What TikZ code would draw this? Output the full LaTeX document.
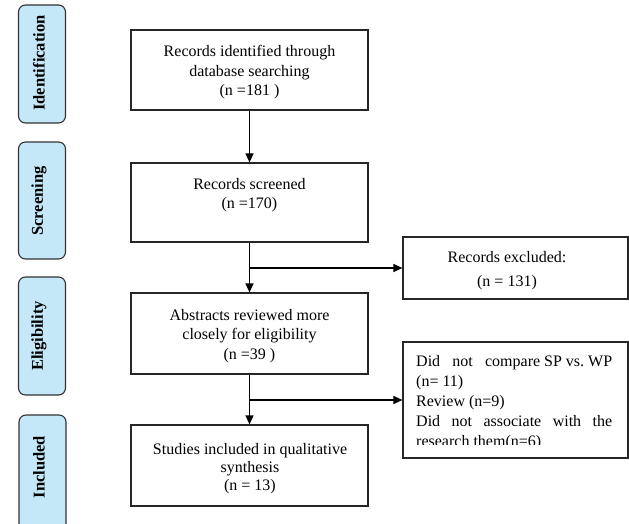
\documentclass[tikz,border=0pt]{standalone}
\usepackage{fontspec}
\setmainfont{Liberation Serif}
\usetikzlibrary{arrows.meta}
\definecolor{phase}{RGB}{197,232,248}
\begin{document}
\begin{tikzpicture}[x=1pt,y=-1pt,
  box/.style={draw=black!85, line width=1.2pt, minimum width=237pt, inner sep=0pt},
  sidebox/.style={draw=black!85, line width=1.2pt, minimum width=225pt, inner sep=0pt},
  phasebox/.style={draw=black!80, line width=1.1pt, fill=phase, rounded corners=7pt, minimum width=47pt, inner sep=0pt},
  phasetxt/.style={rotate=90, font=\bfseries\fontsize{16.5}{18}\selectfont, inner sep=0pt},
  txt/.style={align=center, font=\fontsize{16}{19.5}\selectfont, inner sep=0pt},
  ltxt/.style={anchor=base west, font=\fontsize{16}{19.5}\selectfont, inner sep=0pt},
  arr/.style={-{Triangle[length=9pt,width=8pt]}, line width=1.2pt}]
\useasboundingbox (0,0) rectangle (629,524);

% phase labels
\node[phasebox, minimum height=118pt] (pid) at (42,64) {};
\node[phasetxt] (tid) at (39,63) {Identification};
\node[phasebox, minimum height=117pt] (pscr) at (42,200.5) {};
\node[phasetxt] (tscr) at (39,201) {Screening};
\node[phasebox, minimum height=118pt] (peli) at (42,336) {};
\node[phasetxt] (teli) at (39,336) {Eligibility};
\begin{scope}
  \clip (0,400) rectangle (629,524);
  \node[phasebox, minimum height=130pt] (pinc) at (42.5,480) {};
\end{scope}
\node[phasetxt] (tinc) at (39,467) {Included};

% main boxes
\node[box, minimum height=80pt] (b1) at (249.5,70) {};
\node[txt] (t1) at (249.5,72.5) {Records identified through\\database searching\\(n =181 )};
\node[box, minimum height=79pt] (b2) at (249.5,202.5) {};
\node[txt] (t2) at (249.5,195) {Records screened\\(n =170)};
\node[box, minimum height=81pt] (b3) at (249.5,333.5) {};
\node[txt] (t3) at (249.5,336) {Abstracts reviewed more\\closely for eligibility\\(n =39 )};
\node[box, minimum height=81pt] (b4) at (249.5,465.5) {};
\node[txt, font=\fontsize{16}{18}\selectfont] (t4) at (250,469) {Studies included in qualitative\\synthesis\\(n = 13)};

% side boxes
\node[sidebox, minimum height=62pt] (exc) at (515.5,268) {};
\node[txt, font=\fontsize{16}{24}\selectfont] (texc) at (507,271) {Records excluded:\\(n = 131)};
\node[sidebox, minimum height=116pt] (dn) at (515.5,400) {};
\begin{scope}
  \clip (404,343) rectangle (627,444);
  \node[ltxt] (d1) at (416,366) {\makebox[196pt][l]{Did\hfill not\hfill compare SP vs.\ WP}};
  \node[ltxt] (d2) at (416,386) {(n= 11)};
  \node[ltxt] (d3) at (416,406) {Review (n=9)};
  \node[ltxt] (d4) at (416,426) {\makebox[196pt][s]{Did not associate with the}};
  \node[ltxt] (d5) at (416,446) {research them(n=6)};
\end{scope}

% connectors
\draw[arr] (b1.south) -- (b2.north);
\draw[arr] (b2.south) -- (b3.north);
\draw[arr] (b2.south |- exc.west) -- (exc.west);
\draw[arr] (b3.south) -- (b4.north);
\draw[arr] (b3.south |- dn.west) -- (dn.west);
\end{tikzpicture}
\end{document}
